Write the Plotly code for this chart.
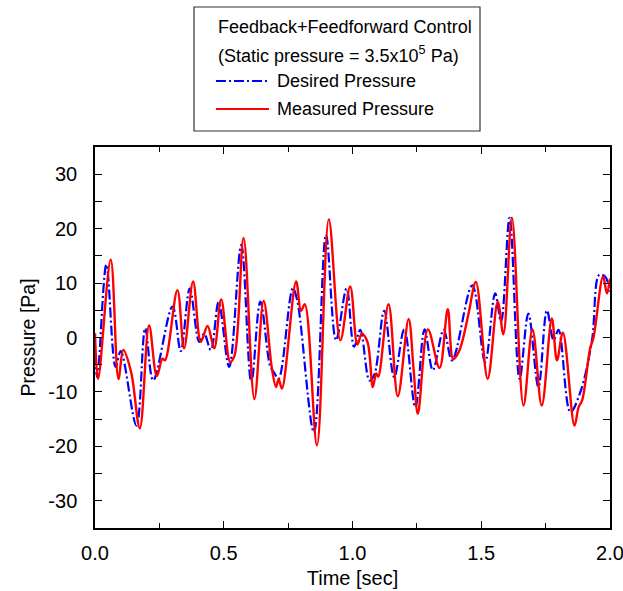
import plotly.graph_objects as go

# ---- data ----
t_desired = [0.000, 0.009, 0.044, 0.080, 0.100, 0.161, 0.195, 0.226, 0.301, 0.333,
             0.368, 0.405, 0.424, 0.450, 0.480, 0.521, 0.568, 0.607, 0.642, 0.681,
             0.695, 0.713, 0.768, 0.785, 0.850, 0.897, 0.936, 0.977, 1.006, 1.030,
             1.066, 1.085, 1.123, 1.162, 1.201, 1.244, 1.280, 1.312, 1.354, 1.387,
             1.465, 1.515, 1.554, 1.577, 1.610, 1.649, 1.683, 1.722, 1.755, 1.781,
             1.800, 1.846, 1.885, 1.930, 1.958, 1.981, 2.000]
p_desired = [-3.0, -7.3, 13.4, -5.4, -2.5, -16.2, 1.7, -7.9, 5.7, -2.5,
             9.0, -0.8, 0.7, -2.3, 6.5, -5.4, 17.0, -8.2, 6.6, -5.4,
             -6.4, -7.6, 9.0, 6.9, -17.4, 18.9, -0.5, 9.0, -1.7, 1.4,
             -7.9, -6.8, 4.9, -7.3, 1.5, -12.8, 1.5, -6.0, 1.4, -4.2,
             9.6, -4.5, 8.1, 2.9, 22.0, -7.6, 4.4, -9.1, 5.0, -0.5,
             1.4, -13.7, -10.0, -0.5, 11.5, 11.2, 8.4]

t_measured = [0.000, 0.012, 0.061, 0.091, 0.110, 0.140, 0.174, 0.210, 0.240, 0.262,
              0.272, 0.320, 0.346, 0.381, 0.411, 0.437, 0.463, 0.490, 0.525, 0.542,
              0.577, 0.619, 0.655, 0.687, 0.703, 0.713, 0.726, 0.781, 0.800, 0.815,
              0.862, 0.908, 0.953, 0.991, 1.019, 1.036, 1.058, 1.079, 1.092, 1.100,
              1.140, 1.176, 1.218, 1.237, 1.254, 1.293, 1.338, 1.370, 1.391, 1.413,
              1.429, 1.452, 1.479, 1.525, 1.564, 1.586, 1.619, 1.664, 1.699, 1.735,
              1.774, 1.794, 1.817, 1.862, 1.878, 1.892, 1.923, 1.936, 1.973, 1.988,
              2.000]
p_measured = [0.8, -7.6, 14.3, -7.6, -2.3, -6.3, -16.7, 2.2, -7.1, -3.9,
              -4.2, 8.7, -2.0, 10.3, -0.8, 2.1, -2.0, 7.0, -4.5, -3.3,
              18.3, -11.3, 6.7, -5.7, -9.1, -7.6, -9.4, 10.3, 4.9, 6.1,
              -19.8, 21.7, -0.5, 9.4, -1.3, 0.7, -0.8, -9.1, -6.6, -7.2,
              6.1, -10.8, 3.4, -5.7, -14.0, 1.5, -5.6, 5.2, -4.0, -2.6,
              -0.2, 4.7, 10.2, -7.6, 6.6, 0.6, 22.0, -12.5, 1.5, -12.5,
              3.5, -4.2, 0.9, -16.2, -12.8, -11.5, -2.0, 0.0, 11.2, 8.1,
              10.8]

x_tick_vals = [0.0, 0.5, 1.0, 1.5, 2.0]
x_tick_labels = ["0.0", "0.5", "1.0", "1.5", "2.0"]
y_tick_vals = [30, 20, 10, 0, -10, -20, -30]
y_tick_labels = ["30", "20", "10", "0", "-10", "-20", "-30"]

legend_header = ["Feedback+Feedforward Control", "(Static pressure = 3.5x10<sup>5</sup> Pa)"]
series_names = ["Desired Pressure", "Measured Pressure"]

# ---- layout geometry (pixels) ----
W, H = 623, 591
PL, PR, PT, PB = 95, 610, 147, 528
FONT = "Liberation Sans, Arial, sans-serif"
BLUE_DASH = "10px,3px,2px,3px"


def px_x(x):
    return (x - PL) / (PR - PL)


def px_y(y):
    return (PB - y) / (PB - PT)


fig = go.Figure()
fig.add_trace(go.Scatter(x=t_desired, y=p_desired, mode="lines", name=series_names[0],
                         line=dict(color="#0000ff", width=2.2, dash=BLUE_DASH,
                                   shape="spline", smoothing=1.0),
                         showlegend=False))
fig.add_trace(go.Scatter(x=t_measured, y=p_measured, mode="lines", name=series_names[1],
                         line=dict(color="#ff0000", width=2.4, shape="spline", smoothing=1.0),
                         showlegend=False))

axis_common = dict(showline=True, linecolor="black", linewidth=1.5, mirror="allticks",
                   ticks="inside", ticklen=7, tickwidth=1.2, tickcolor="black",
                   showgrid=False, zeroline=False, automargin=False,
                   ticklabeloverflow="allow",
                   tickfont=dict(family=FONT, size=20, color="black"))

fig.update_xaxes(range=[0, 2], tickvals=x_tick_vals, ticktext=x_tick_labels,
                 minor=dict(dtick=0.25, ticks="inside", ticklen=5, tickcolor="black", tickwidth=1.2),
                 title=dict(text="Time [sec]", font=dict(family=FONT, size=20, color="black"),
                            standoff=8),
                 ticklabelstandoff=6,
                 **axis_common)
fig.update_yaxes(range=[-35, 35], tickvals=y_tick_vals, ticktext=y_tick_labels,
                 minor=dict(dtick=5, ticks="inside", ticklen=7, tickcolor="black", tickwidth=1.2),
                 title=dict(text="Pressure [Pa]", font=dict(family=FONT, size=19.5, color="black"),
                            standoff=8),
                 ticklabelstandoff=12,
                 **axis_common)

# ---- legend box drawn by hand ----
box = dict(x0=194, x1=480, y0=7, y1=131)
shapes = [dict(type="rect", xref="paper", yref="paper",
               x0=px_x(box["x0"]), x1=px_x(box["x1"]), y0=px_y(box["y1"]), y1=px_y(box["y0"]),
               line=dict(color="#333333", width=1.2), fillcolor="white", layer="above")]
shapes.append(dict(type="line", xref="paper", yref="paper",
                   x0=px_x(216), x1=px_x(268), y0=px_y(81), y1=px_y(81),
                   line=dict(color="#0000ff", width=2, dash=BLUE_DASH)))
shapes.append(dict(type="line", xref="paper", yref="paper",
                   x0=px_x(216), x1=px_x(269), y0=px_y(109), y1=px_y(109),
                   line=dict(color="#ff0000", width=2)))

annotations = []
for text, ypx in zip(legend_header, [27, 54]):
    annotations.append(dict(text=text, xref="paper", yref="paper", x=px_x(216), y=px_y(ypx),
                            xanchor="left", yanchor="middle", showarrow=False,
                            font=dict(family=FONT, size=18, color="black")))
for text, ypx in zip(series_names, [81, 109]):
    annotations.append(dict(text=text, xref="paper", yref="paper", x=px_x(275), y=px_y(ypx),
                            xanchor="left", yanchor="middle", showarrow=False,
                            font=dict(family=FONT, size=18, color="black")))

fig.update_layout(width=W, height=H, margin=dict(l=PL, r=W - PR, t=PT, b=H - PB, autoexpand=False),
                  paper_bgcolor="white", plot_bgcolor="white",
                  shapes=shapes, annotations=annotations,
                  font=dict(family=FONT, color="black"))

fig.write_html("out.html")
